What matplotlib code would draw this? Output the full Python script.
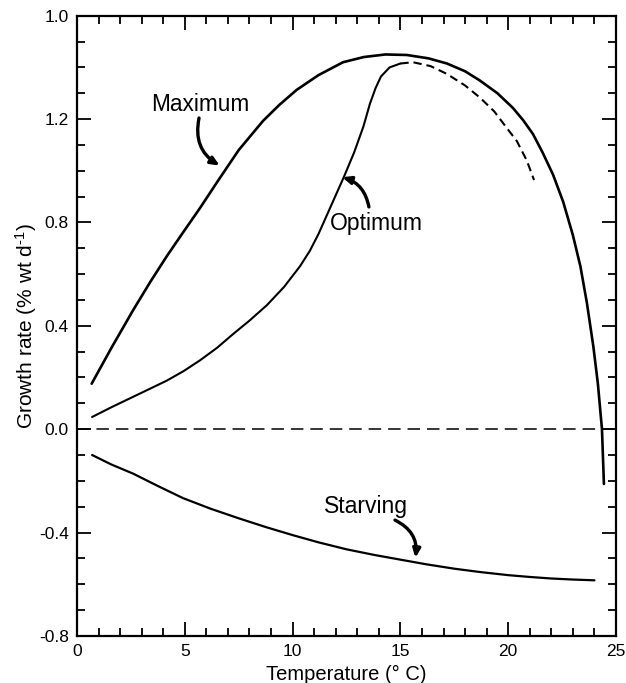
import matplotlib
matplotlib.use("Agg")
import matplotlib.pyplot as plt
from matplotlib.ticker import MultipleLocator, FixedLocator

plt.rcParams['font.family'] = ['Liberation Sans', 'DejaVu Sans']
plt.rcParams['lines.scale_dashes'] = False
plt.rcParams['mathtext.fontset'] = 'custom'
plt.rcParams['mathtext.rm'] = 'Liberation Sans'
plt.rcParams['mathtext.it'] = 'Liberation Sans'
plt.rcParams['mathtext.default'] = 'rm'

# ---- data ----
max_temp = [0.68, 1.6, 2.6, 3.4, 4.17, 4.95, 5.7, 6.49, 7.5, 8.63, 9.4, 10.19,
            11.2, 12.34, 13.3, 14.3, 15.3, 16.3, 17.16, 18.0, 18.69, 19.5,
            20.22, 20.7, 21.15, 21.6, 22.08, 22.55, 23.0, 23.35, 23.65, 23.95,
            24.16, 24.35, 24.44]
max_rate = [0.176, 0.315, 0.46, 0.57, 0.67, 0.765, 0.855, 0.955, 1.08, 1.193, 1.256,
            1.313, 1.37, 1.42, 1.44, 1.45, 1.448, 1.435, 1.415, 1.385, 1.349, 1.30,
            1.243, 1.195, 1.142, 1.07, 0.985, 0.88, 0.751, 0.63, 0.489, 0.32,
            0.176, 0.0, -0.212]

opt_temp = [0.7, 1.6, 2.6, 3.4, 4.17, 4.95, 5.7, 6.5, 7.24, 8.0, 8.81, 9.6, 10.34,
            10.8, 11.2, 11.6, 12.0, 12.4, 12.85, 13.28, 13.59, 13.85, 14.1, 14.5,
            15.0]
opt_rate = [0.047, 0.085, 0.125, 0.157, 0.188, 0.225, 0.266, 0.315, 0.368, 0.42,
            0.48, 0.55, 0.63, 0.69, 0.755, 0.83, 0.905, 0.98, 1.07, 1.17, 1.26,
            1.32, 1.365, 1.40, 1.415]

opt_ext_temp = [15.0, 15.58, 16.4, 17.15, 18.0, 18.69, 19.35, 19.93, 20.4, 20.86, 21.2]
opt_ext_rate = [1.415, 1.42, 1.405, 1.375, 1.33, 1.283, 1.23, 1.166, 1.115, 1.04, 0.964]

starv_temp = [0.7, 1.6, 2.6, 3.8, 4.92, 6.2, 7.5, 8.8, 10.0, 11.2, 12.5, 13.8,
              15.0, 16.2, 17.5, 18.7, 20.0, 21.0, 22.0, 23.0, 24.0]
starv_rate = [-0.10, -0.137, -0.172, -0.222, -0.267, -0.308, -0.345, -0.38, -0.41,
              -0.438, -0.465, -0.487, -0.505, -0.523, -0.54, -0.553, -0.565, -0.572,
              -0.578, -0.582, -0.585]

x_ticks = [0, 5, 10, 15, 20, 25]
x_ticklabels = ['0', '5', '10', '15', '20', '25']
y_ticks = [-0.8, -0.4, 0.0, 0.4, 0.8, 1.2, 1.6]
y_ticklabels = ['-0.8', '-0.4', '0.0', '0.4', '0.8', '1.2', '1.0']

# ---- figure ----
fig = plt.figure(figsize=(6.26, 6.83), dpi=100)
ax = fig.add_axes([0.123, 0.069, 0.861, 0.908])

ax.plot(max_temp, max_rate, color='black', lw=1.9, solid_capstyle='round',
        solid_joinstyle='round')
ax.plot(opt_temp, opt_rate, color='black', lw=1.5, solid_capstyle='round',
        solid_joinstyle='round')
ax.plot(opt_ext_temp, opt_ext_rate, color='black', lw=1.5, dashes=(6, 3.5))
ax.plot(starv_temp, starv_rate, color='black', lw=1.6, solid_capstyle='round',
        solid_joinstyle='round')
ax.axhline(0.0, color='black', lw=1.1, dashes=(9, 5))

ax.set_xlim(0, 25)
ax.set_ylim(-0.8, 1.6)

ax.xaxis.set_major_locator(FixedLocator(x_ticks))
ax.set_xticklabels(x_ticklabels)
ax.xaxis.set_minor_locator(MultipleLocator(1))
ax.yaxis.set_major_locator(FixedLocator(y_ticks))
ax.set_yticklabels(y_ticklabels)
ax.yaxis.set_minor_locator(MultipleLocator(0.1))

ax.tick_params(which='both', direction='in', top=True, right=True, width=1.3,
               labelsize=12.5, colors='black')
ax.tick_params(which='major', length=10, pad=6)
ax.tick_params(which='minor', length=5.5)
for s in ax.spines.values():
    s.set_linewidth(1.6)

ax.set_xlabel('Temperature (\u00b0 C)', fontsize=14.5, labelpad=4)
ax.set_ylabel('Growth rate (% wt d$^{\\text{-1}}$)', fontsize=15, labelpad=0)

arrow_kw = dict(arrowstyle='-|>,head_length=0.5,head_width=0.22', color='black',
                lw=2.4, shrinkA=0, shrinkB=0)

ax.text(5.7, 1.255, 'Maximum', fontsize=16.3, ha='center', va='center')
ax.annotate('', xy=(6.62, 1.02), xytext=(5.66, 1.204),
            arrowprops=dict(connectionstyle='arc3,rad=0.35', **arrow_kw))

ax.text(11.73, 0.795, 'Optimum', fontsize=16.5, ha='left', va='center')
ax.annotate('', xy=(12.3, 0.975), xytext=(13.54, 0.86),
            arrowprops=dict(connectionstyle='arc3,rad=0.3', **arrow_kw))

ax.text(13.4, -0.30, 'Starving', fontsize=16.5, ha='center', va='center')
ax.annotate('', xy=(15.7, -0.498), xytext=(14.75, -0.352),
            arrowprops=dict(connectionstyle='arc3,rad=-0.35', **arrow_kw))

fig.savefig('out.png', dpi=100)
